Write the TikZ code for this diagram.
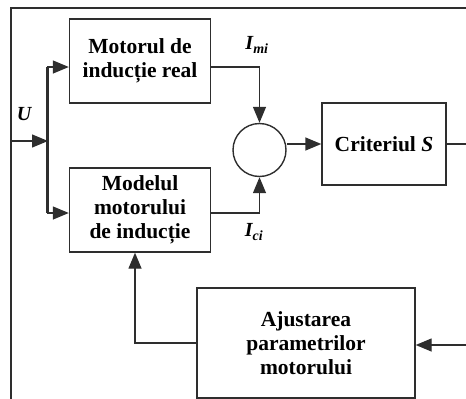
\documentclass[tikz,border=0pt]{standalone}
\usepackage{fontspec}
\setmainfont{Liberation Serif}
\usetikzlibrary{arrows.meta,calc}
\begin{document}
\begin{tikzpicture}[x=1pt,y=-1pt,
  wire/.style={draw=black!82,line width=1.4pt},
  arr/.style={wire,-{Triangle[length=16pt,width=13pt]}},
  blockbox/.style={draw=black!82,line width=1.4pt,inner sep=0pt,align=center,
    font=\fontsize{21.5}{24}\selectfont\bfseries},
  sig/.style={font=\fontsize{20}{22}\selectfont\bfseries\itshape,inner sep=0pt}]
  \useasboundingbox (0,0) rectangle (466,399);

  % blocks
  \node[blockbox,minimum width=141pt,minimum height=84pt] (m1) at (140,61)
    {Motorul de\\inducție real};
  \node[blockbox,minimum width=141pt,minimum height=84pt] (m2) at (140,210)
    {Modelul\\motorului\\de inducție};
  \node[blockbox,minimum width=124pt,minimum height=82pt] (crit) at (384,144)
    {Criteriul \textit{S}};
  \node[blockbox,minimum width=218pt,minimum height=110pt] (aj) at (306,343)
    {Ajustarea\\parametrilor\\motorului};
  \node[draw=black!82,line width=1.4pt,circle,minimum size=53pt,inner sep=0pt] (sum) at (259.5,150) {};

  % frame and free ends
  \coordinate (tl) at (11,8);
  \coordinate (tr) at (466,8);
  \coordinate (bl) at (11,399);
  \coordinate (uin) at (11,141);
  \coordinate (j) at (48,141);
  \coordinate (rout) at (466,142);
  \coordinate (rin) at (466,345);

  \draw[wire] (bl) -- (tl) -- (tr);
  \draw[arr] (uin) -- (j);
  \draw[wire] ($(m1.west)+(-22,6)$) -- ($(m2.west)+(-22,3)$);
  \draw[arr] (j) |- ($(m1.west)+(0,6)$);
  \draw[arr] (j) |- ($(m2.west)+(0,3)$);

  % outputs into the comparator
  \draw[arr] ($(m1.east)+(0,6)$) -| (sum.north);
  \draw[arr] ($(m2.east)+(0,3)$) -| (sum.south);
  \draw[arr] (crit.west -| sum.east) -- (crit.west);
  \draw[wire] (crit.east) -- (crit.east -| rout);

  % parameter adaptation loop
  \draw[arr] (rin) -- (rin -| aj.east);
  \draw[arr] (aj.west) -| ($(m2.south)+(-5,0)$);

  % signal labels
  \node[sig] (lu) at (24,114) {U};
  \node[sig] (lmi) at (257,45) {I\textsubscript{mi}};
  \node[sig] (lci) at (254,232) {I\textsubscript{ci}};
\end{tikzpicture}
\end{document}
